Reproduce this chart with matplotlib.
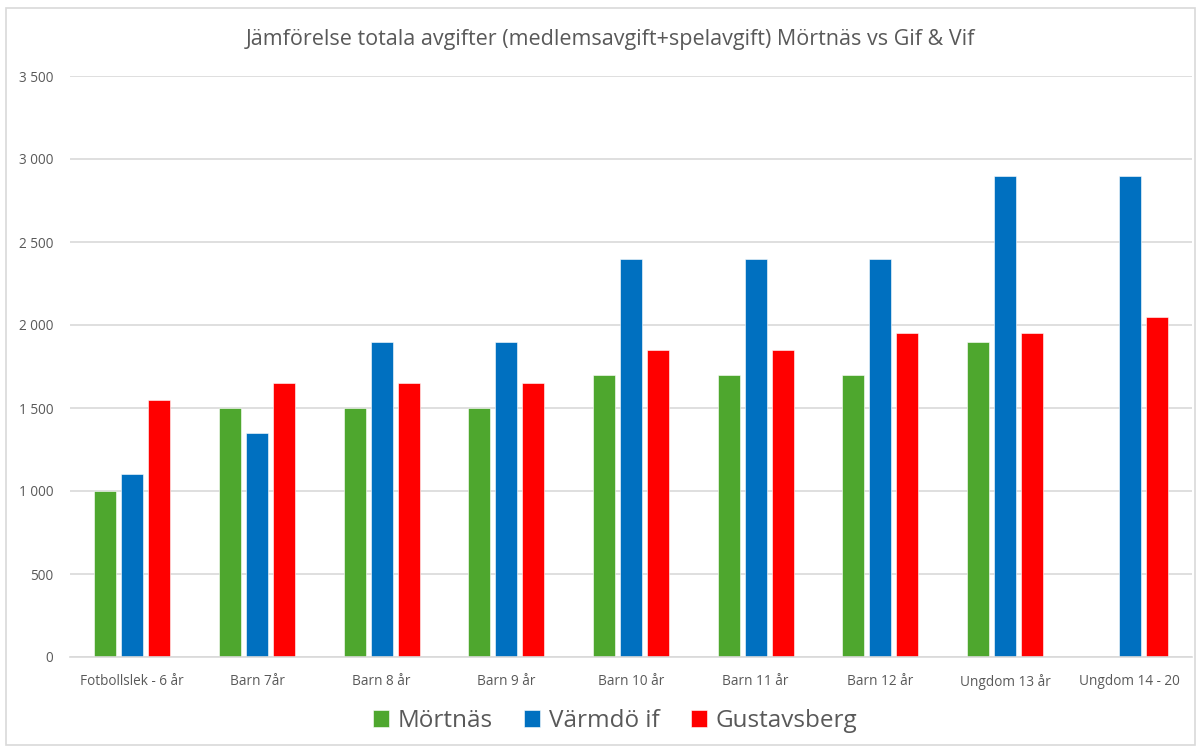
import matplotlib
matplotlib.use("Agg")
import matplotlib.pyplot as plt
from matplotlib.patches import Rectangle
from matplotlib.ticker import FuncFormatter
import numpy as np

categories = ["Fotbollslek - 6 år", "Barn 7år", "Barn 8 år", "Barn 9 år", "Barn 10 år",
              "Barn 11 år", "Barn 12 år", "Ungdom 13 år", "Ungdom 14 - 20"]
mortnas = [1000, 1500, 1500, 1500, 1700, 1700, 1700, 1900, 0]
varmdo = [1100, 1350, 1900, 1900, 2400, 2400, 2400, 2900, 2900]
gustavsberg = [1550, 1650, 1650, 1650, 1850, 1850, 1950, 1950, 2050]
series_names = ["Mörtnäs", "Värmdö if", "Gustavsberg"]
colors = ["#4EA72E", "#0070C0", "#FF0000"]
title = "Jämförelse totala avgifter (medlemsavgift+spelavgift) Mörtnäs vs Gif & Vif"

plt.rcParams['font.family'] = ['Open Sans', 'DejaVu Sans']

W, H = 1201, 749
fig = plt.figure(figsize=(W / 100, H / 100), dpi=100)
fig.patch.set_facecolor("white")
fig.add_artist(Rectangle((6 / W, 4 / H), 1189 / W, 737 / H, transform=fig.transFigure,
                         fill=False, edgecolor="#D9D9D9", linewidth=1.2))

ax = fig.add_axes([70 / W, 1 - 657 / H, (1192 - 70) / W, (657 - 76) / H])
x = np.arange(len(categories))
bw = 0.176
step = 0.217
for i, (vals, name, c) in enumerate(zip([mortnas, varmdo, gustavsberg], series_names, colors)):
    ax.bar(x + (i - 1) * step, vals, width=bw, color=c, label=name,
           edgecolor="white", linewidth=0.4, zorder=3)

ax.set_xlim(-0.5, len(categories) - 0.5)
ax.set_ylim(0, 3500)
ax.set_yticks(np.arange(0, 3501, 500))
ax.yaxis.set_major_formatter(FuncFormatter(lambda v, p: f"{int(v):,}".replace(",", " ")))
ax.set_xticks(x)
ax.set_xticklabels(categories)
ax.grid(axis="y", color="#D9D9D9", linewidth=1.2, zorder=0)
for s in ["top", "right", "left"]:
    ax.spines[s].set_visible(False)
ax.spines["bottom"].set_color("#D9D9D9")
ax.spines["bottom"].set_linewidth(1.2)
ax.spines["bottom"].set_zorder(4)
ax.tick_params(axis="both", length=0, colors="#595959", labelsize=9.8)
ax.tick_params(axis="y", pad=12)
ax.tick_params(axis="x", pad=12)

fig.text(610 / W, 1 - 40 / H, title, ha="center", va="center", fontsize=15.5, color="#595959")

leg = fig.legend(loc="center", bbox_to_anchor=(0.512, 1 - 721 / H), ncol=3, frameon=False,
                 fontsize=17.5, handlelength=0.65, handleheight=0.65, columnspacing=1.3,
                 handletextpad=0.35, labelcolor="#595959")

fig.savefig("out.png", dpi=100)
